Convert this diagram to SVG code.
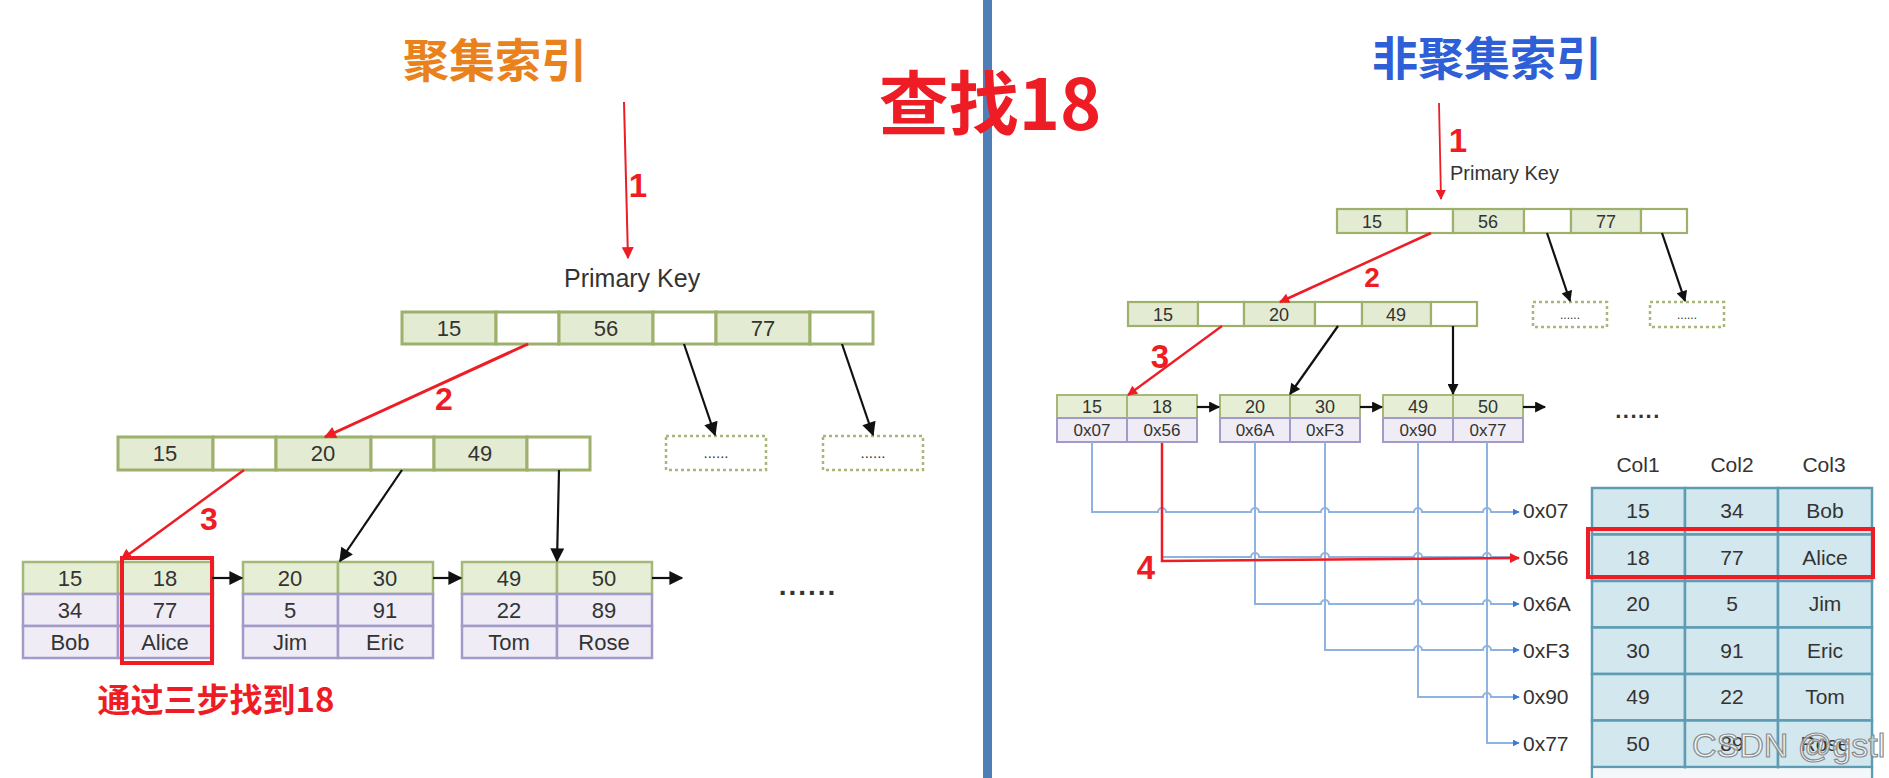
<svg xmlns="http://www.w3.org/2000/svg" width="1889" height="778" viewBox="0 0 1889 778">
<style>
.kg{fill:#E3EBD2;stroke:#9DB06C;stroke-width:3}
.kw{fill:#FFFFFF;stroke:#9DB06C;stroke-width:3}
.kg2{fill:#E3EBD2;stroke:#9DB06C;stroke-width:2.2}
.kw2{fill:#FFFFFF;stroke:#9DB06C;stroke-width:2.2}
.lg{fill:#E6EFD6;stroke:#A5B877;stroke-width:2.5}
.lp{fill:#EFECF5;stroke:#A29AC8;stroke-width:2.5}
.lg2{fill:#E6EFD6;stroke:#A5B877;stroke-width:2}
.lp2{fill:#EFECF5;stroke:#A29AC8;stroke-width:2}
.tb{fill:#D3E7EF;stroke:#5E9CB4;stroke-width:2.5}
.dash{fill:#FFFFFF;stroke:#A5B877;stroke-width:2.5;stroke-dasharray:3 3}
.t{font-family:"Liberation Sans",Arial,sans-serif;fill:#333;text-anchor:middle}
.tl{font-family:"Liberation Sans",Arial,sans-serif;fill:#333}
.red{font-family:"Liberation Sans",Arial,sans-serif;fill:#EE1C25;font-weight:bold;text-anchor:middle}
.cjk{font-family:"Noto Sans CJK SC","Noto Sans",sans-serif;font-weight:bold;text-anchor:middle}
.ak{stroke:#111;stroke-width:2.2;fill:none}
.ar{stroke:#EE1C25;fill:none}
.bl{stroke:#8FB3E0;stroke-width:2;fill:none}
.hl{fill:none;stroke:#EE1C25;stroke-width:4}
</style>
<defs>
<marker id="akL" viewBox="0 0 10 10" refX="9" refY="5" markerWidth="16" markerHeight="14" markerUnits="userSpaceOnUse" orient="auto"><path d="M0,0 L10,5 L0,10 z" fill="#111"/></marker>
<marker id="akS" viewBox="0 0 10 10" refX="9" refY="5" markerWidth="12" markerHeight="11" markerUnits="userSpaceOnUse" orient="auto"><path d="M0,0 L10,5 L0,10 z" fill="#111"/></marker>
<marker id="arL" viewBox="0 0 10 10" refX="9" refY="5" markerWidth="14" markerHeight="12" markerUnits="userSpaceOnUse" orient="auto"><path d="M0,0 L10,5 L0,10 z" fill="#EE1C25"/></marker>
<marker id="arS" viewBox="0 0 10 10" refX="9" refY="5" markerWidth="11" markerHeight="10" markerUnits="userSpaceOnUse" orient="auto"><path d="M0,0 L10,5 L0,10 z" fill="#EE1C25"/></marker>
<marker id="ab" viewBox="0 0 10 10" refX="9" refY="5" markerWidth="7" markerHeight="7" markerUnits="userSpaceOnUse" orient="auto"><path d="M0,0 L10,5 L0,10 z" fill="#3C78D8"/></marker>
</defs>
<rect width="1889" height="778" fill="#FFFFFF"/>

<!-- divider -->
<rect id="divider" x="983" y="0" width="9" height="778" fill="#4F7DB5"/>

<!-- titles -->
<text id="title-left" class="cjk" x="495" y="77" font-size="46" fill="#E9821C">聚集索引</text>
<text id="title-right" class="cjk" x="1487" y="75" font-size="46" fill="#2E5FD6">非聚集索引</text>
<text id="title-main" class="cjk" x="990" y="130" font-size="70" fill="#EE1C25">查找18</text>

<!-- LEFT: clustered index -->
<text id="pk-left" class="tl" x="564" y="287" font-size="25">Primary Key</text>

<g id="L-top" class="node">
<rect class="kg" x="402" y="312" width="94" height="32"/>
<rect class="kw" x="496" y="312" width="63" height="32"/>
<rect class="kg" x="559" y="312" width="94" height="32"/>
<rect class="kw" x="653" y="312" width="63" height="32"/>
<rect class="kg" x="716" y="312" width="94" height="32"/>
<rect class="kw" x="810" y="312" width="63" height="32"/>
<text class="t" font-size="22" x="449" y="336">15</text>
<text class="t" font-size="22" x="606" y="336">56</text>
<text class="t" font-size="22" x="763" y="336">77</text>
</g>

<g id="L-mid" class="node">
<rect class="kg" x="118" y="437" width="95" height="33"/>
<rect class="kw" x="213" y="437" width="63" height="33"/>
<rect class="kg" x="276" y="437" width="95" height="33"/>
<rect class="kw" x="371" y="437" width="63" height="33"/>
<rect class="kg" x="434" y="437" width="93" height="33"/>
<rect class="kw" x="527" y="437" width="63" height="33"/>
<text class="t" font-size="22" x="165" y="461">15</text>
<text class="t" font-size="22" x="323" y="461">20</text>
<text class="t" font-size="22" x="480" y="461">49</text>
</g>

<g id="L-dash1" class="node">
<rect class="dash" x="666" y="436" width="100" height="34"/>
<text class="t" font-size="15" x="716" y="458" fill="#555">......</text>
</g>
<g id="L-dash2" class="node">
<rect class="dash" x="823" y="436" width="100" height="34"/>
<text class="t" font-size="15" x="873" y="458" fill="#555">......</text>
</g>

<g id="L-leaf1" class="node">
<rect class="lg" x="23" y="562" width="95" height="32"/>
<rect class="lg" x="118" y="562" width="95" height="32"/>
<rect class="lp" x="23" y="594" width="95" height="32"/>
<rect class="lp" x="118" y="594" width="95" height="32"/>
<rect class="lp" x="23" y="626" width="95" height="32"/>
<rect class="lp" x="118" y="626" width="95" height="32"/>
<text class="t" font-size="22" x="70" y="586">15</text>
<text class="t" font-size="22" x="165" y="586">18</text>
<text class="t" font-size="22" x="70" y="618">34</text>
<text class="t" font-size="22" x="165" y="618">77</text>
<text class="t" font-size="22" x="70" y="650">Bob</text>
<text class="t" font-size="22" x="165" y="650">Alice</text>
</g>
<g id="L-leaf2" class="node">
<rect class="lg" x="243" y="562" width="95" height="32"/>
<rect class="lg" x="338" y="562" width="95" height="32"/>
<rect class="lp" x="243" y="594" width="95" height="32"/>
<rect class="lp" x="338" y="594" width="95" height="32"/>
<rect class="lp" x="243" y="626" width="95" height="32"/>
<rect class="lp" x="338" y="626" width="95" height="32"/>
<text class="t" font-size="22" x="290" y="586">20</text>
<text class="t" font-size="22" x="385" y="586">30</text>
<text class="t" font-size="22" x="290" y="618">5</text>
<text class="t" font-size="22" x="385" y="618">91</text>
<text class="t" font-size="22" x="290" y="650">Jim</text>
<text class="t" font-size="22" x="385" y="650">Eric</text>
</g>
<g id="L-leaf3" class="node">
<rect class="lg" x="462" y="562" width="95" height="32"/>
<rect class="lg" x="557" y="562" width="95" height="32"/>
<rect class="lp" x="462" y="594" width="95" height="32"/>
<rect class="lp" x="557" y="594" width="95" height="32"/>
<rect class="lp" x="462" y="626" width="95" height="32"/>
<rect class="lp" x="557" y="626" width="95" height="32"/>
<text class="t" font-size="22" x="509" y="586">49</text>
<text class="t" font-size="22" x="604" y="586">50</text>
<text class="t" font-size="22" x="509" y="618">22</text>
<text class="t" font-size="22" x="604" y="618">89</text>
<text class="t" font-size="22" x="509" y="650">Tom</text>
<text class="t" font-size="22" x="604" y="650">Rose</text>
</g>
<text id="L-more" class="t" font-size="28" font-weight="bold" fill="#111" x="808" y="595" letter-spacing="2">......</text>

<rect id="L-highlight" class="hl" x="122" y="558" width="90" height="105"/>
<text id="L-note" class="cjk" x="216" y="712" font-size="33" fill="#EE1C25">通过三步找到18</text>

<!-- RIGHT: non-clustered index -->
<text id="pk-right" class="tl" x="1450" y="180" font-size="20">Primary Key</text>

<g id="R-top" class="node">
<rect class="kg2" x="1337" y="209" width="70" height="24"/>
<rect class="kw2" x="1407" y="209" width="46" height="24"/>
<rect class="kg2" x="1453" y="209" width="71" height="24"/>
<rect class="kw2" x="1524" y="209" width="47" height="24"/>
<rect class="kg2" x="1571" y="209" width="70" height="24"/>
<rect class="kw2" x="1641" y="209" width="46" height="24"/>
<text class="t" font-size="18" x="1372" y="228">15</text>
<text class="t" font-size="18" x="1488" y="228">56</text>
<text class="t" font-size="18" x="1606" y="228">77</text>
</g>

<g id="R-mid" class="node">
<rect class="kg2" x="1128" y="302" width="70" height="24"/>
<rect class="kw2" x="1198" y="302" width="46" height="24"/>
<rect class="kg2" x="1244" y="302" width="71" height="24"/>
<rect class="kw2" x="1315" y="302" width="47" height="24"/>
<rect class="kg2" x="1362" y="302" width="69" height="24"/>
<rect class="kw2" x="1431" y="302" width="46" height="24"/>
<text class="t" font-size="18" x="1163" y="321">15</text>
<text class="t" font-size="18" x="1279" y="321">20</text>
<text class="t" font-size="18" x="1396" y="321">49</text>
</g>

<g id="R-dash1" class="node">
<rect class="dash" x="1533" y="302" width="74" height="25"/>
<text class="t" font-size="12" x="1570" y="319" fill="#666">......</text>
</g>
<g id="R-dash2" class="node">
<rect class="dash" x="1650" y="302" width="74" height="25"/>
<text class="t" font-size="12" x="1687" y="319" fill="#666">......</text>
</g>

<g id="R-leaf1" class="node">
<rect class="lg2" x="1057" y="395" width="70" height="23"/>
<rect class="lg2" x="1127" y="395" width="70" height="23"/>
<rect class="lp2" x="1057" y="418" width="70" height="24"/>
<rect class="lp2" x="1127" y="418" width="70" height="24"/>
<text class="t" font-size="18" x="1092" y="413">15</text>
<text class="t" font-size="18" x="1162" y="413">18</text>
<text class="t" font-size="17" x="1092" y="436">0x07</text>
<text class="t" font-size="17" x="1162" y="436">0x56</text>
</g>
<g id="R-leaf2" class="node">
<rect class="lg2" x="1220" y="395" width="70" height="23"/>
<rect class="lg2" x="1290" y="395" width="70" height="23"/>
<rect class="lp2" x="1220" y="418" width="70" height="24"/>
<rect class="lp2" x="1290" y="418" width="70" height="24"/>
<text class="t" font-size="18" x="1255" y="413">20</text>
<text class="t" font-size="18" x="1325" y="413">30</text>
<text class="t" font-size="17" x="1255" y="436">0x6A</text>
<text class="t" font-size="17" x="1325" y="436">0xF3</text>
</g>
<g id="R-leaf3" class="node">
<rect class="lg2" x="1383" y="395" width="70" height="23"/>
<rect class="lg2" x="1453" y="395" width="70" height="23"/>
<rect class="lp2" x="1383" y="418" width="70" height="24"/>
<rect class="lp2" x="1453" y="418" width="70" height="24"/>
<text class="t" font-size="18" x="1418" y="413">49</text>
<text class="t" font-size="18" x="1488" y="413">50</text>
<text class="t" font-size="17" x="1418" y="436">0x90</text>
<text class="t" font-size="17" x="1488" y="436">0x77</text>
</g>
<text id="R-more" class="t" font-size="22" font-weight="bold" fill="#111" x="1638" y="418" letter-spacing="1.5">......</text>

<g id="R-table" class="node">
<text class="t" font-size="21" x="1638" y="472">Col1</text>
<text class="t" font-size="21" x="1732" y="472">Col2</text>
<text class="t" font-size="21" x="1824" y="472">Col3</text>
<rect class="tb" x="1592" y="488" width="93" height="46.5"/>
<rect class="tb" x="1685" y="488" width="93" height="46.5"/>
<rect class="tb" x="1778" y="488" width="94" height="46.5"/>
<rect class="tb" x="1592" y="534.5" width="93" height="46.5"/>
<rect class="tb" x="1685" y="534.5" width="93" height="46.5"/>
<rect class="tb" x="1778" y="534.5" width="94" height="46.5"/>
<rect class="tb" x="1592" y="581" width="93" height="46.5"/>
<rect class="tb" x="1685" y="581" width="93" height="46.5"/>
<rect class="tb" x="1778" y="581" width="94" height="46.5"/>
<rect class="tb" x="1592" y="627.5" width="93" height="46.5"/>
<rect class="tb" x="1685" y="627.5" width="93" height="46.5"/>
<rect class="tb" x="1778" y="627.5" width="94" height="46.5"/>
<rect class="tb" x="1592" y="674" width="93" height="46.5"/>
<rect class="tb" x="1685" y="674" width="93" height="46.5"/>
<rect class="tb" x="1778" y="674" width="94" height="46.5"/>
<rect class="tb" x="1592" y="720.5" width="93" height="46.5"/>
<rect class="tb" x="1685" y="720.5" width="93" height="46.5"/>
<rect class="tb" x="1778" y="720.5" width="94" height="46.5"/>
<path d="M1592,767 V780 M1685,767 V780 M1778,767 V780 M1872,767 V780" stroke="#5E9CB4" stroke-width="2.5"/>
<rect x="1593.5" y="768.5" width="277" height="12" fill="#F4F8FA"/>
<text class="t" font-size="21" x="1638" y="518">15</text>
<text class="t" font-size="21" x="1732" y="518">34</text>
<text class="t" font-size="21" x="1825" y="518">Bob</text>
<text class="t" font-size="21" x="1638" y="565">18</text>
<text class="t" font-size="21" x="1732" y="565">77</text>
<text class="t" font-size="21" x="1825" y="565">Alice</text>
<text class="t" font-size="21" x="1638" y="611">20</text>
<text class="t" font-size="21" x="1732" y="611">5</text>
<text class="t" font-size="21" x="1825" y="611">Jim</text>
<text class="t" font-size="21" x="1638" y="658">30</text>
<text class="t" font-size="21" x="1732" y="658">91</text>
<text class="t" font-size="21" x="1825" y="658">Eric</text>
<text class="t" font-size="21" x="1638" y="704">49</text>
<text class="t" font-size="21" x="1732" y="704">22</text>
<text class="t" font-size="21" x="1825" y="704">Tom</text>
<text class="t" font-size="21" x="1638" y="751">50</text>
<text class="t" font-size="21" x="1732" y="751">89</text>
<text class="t" font-size="21" x="1825" y="751">Rose</text>
</g>

<g id="R-addr">
<text class="tl" font-size="21" x="1523" y="518">0x07</text>
<text class="tl" font-size="21" x="1523" y="565">0x56</text>
<text class="tl" font-size="21" x="1523" y="611">0x6A</text>
<text class="tl" font-size="21" x="1523" y="658">0xF3</text>
<text class="tl" font-size="21" x="1523" y="704">0x90</text>
<text class="tl" font-size="21" x="1523" y="751">0x77</text>
</g>

<rect id="R-highlight" class="hl" x="1588" y="529" width="285" height="48" stroke-width="4.5"/>

<!-- connectors -->
<g id="connectors">
<!-- left -->
<line class="ar" stroke-width="2" x1="624" y1="102" x2="628" y2="258" marker-end="url(#arL)"/>
<line class="ar" stroke-width="3" x1="528" y1="344" x2="325" y2="437" marker-end="url(#arL)"/>
<line class="ar" stroke-width="2.5" x1="244" y1="470" x2="121" y2="560" marker-end="url(#arL)"/>
<line class="ak" x1="684" y1="344" x2="715" y2="435" marker-end="url(#akL)"/>
<line class="ak" x1="842" y1="344" x2="873" y2="435" marker-end="url(#akL)"/>
<line class="ak" x1="402" y1="470" x2="340" y2="561" marker-end="url(#akL)"/>
<line class="ak" x1="559" y1="470" x2="557" y2="561" marker-end="url(#akL)"/>
<line class="ak" stroke-width="3" x1="212" y1="578" x2="242" y2="578" marker-end="url(#akL)"/>
<line class="ak" stroke-width="3" x1="433" y1="578" x2="461" y2="578" marker-end="url(#akL)"/>
<line class="ak" stroke-width="3" x1="652" y1="578" x2="682" y2="578" marker-end="url(#akL)"/>
<!-- right tree -->
<line class="ar" stroke-width="1.8" x1="1439" y1="103" x2="1441" y2="199" marker-end="url(#arS)"/>
<line class="ar" stroke-width="2.5" x1="1431" y1="233" x2="1280" y2="302" marker-end="url(#arS)"/>
<line class="ar" stroke-width="2.2" x1="1222" y1="326" x2="1128" y2="395" marker-end="url(#arS)"/>
<line class="ak" stroke-width="1.8" x1="1547" y1="233" x2="1570" y2="301" marker-end="url(#akS)"/>
<line class="ak" stroke-width="1.8" x1="1662" y1="233" x2="1685" y2="301" marker-end="url(#akS)"/>
<line class="ak" stroke-width="1.8" x1="1338" y1="326" x2="1290" y2="394" marker-end="url(#akS)"/>
<line class="ak" stroke-width="1.8" x1="1453" y1="326" x2="1453" y2="394" marker-end="url(#akS)"/>
<line class="ak" stroke-width="2.2" x1="1197" y1="407" x2="1219" y2="407" marker-end="url(#akS)"/>
<line class="ak" stroke-width="2.2" x1="1360" y1="407" x2="1382" y2="407" marker-end="url(#akS)"/>
<line class="ak" stroke-width="2.2" x1="1523" y1="407" x2="1545" y2="407" marker-end="url(#akS)"/>
<!-- pointer lines to rows -->
<path class="bl" d="M1092,442 V512 H1158 A4,4 0 0 1 1166,512 H1251 A4,4 0 0 1 1259,512 H1321 A4,4 0 0 1 1329,512 H1414 A4,4 0 0 1 1422,512 H1483 A4,4 0 0 1 1491,512 H1519" marker-end="url(#ab)"/>
<path class="bl" d="M1162,557 H1251 A4,4 0 0 1 1259,557 H1321 A4,4 0 0 1 1329,557 H1414 A4,4 0 0 1 1422,557 H1483 A4,4 0 0 1 1491,557 H1510"/>
<path class="bl" d="M1255,442 V604 H1321 A4,4 0 0 1 1329,604 H1414 A4,4 0 0 1 1422,604 H1483 A4,4 0 0 1 1491,604 H1519" marker-end="url(#ab)"/>
<path class="bl" d="M1325,442 V650 H1414 A4,4 0 0 1 1422,650 H1483 A4,4 0 0 1 1491,650 H1519" marker-end="url(#ab)"/>
<path class="bl" d="M1418,442 V697 H1483 A4,4 0 0 1 1491,697 H1519" marker-end="url(#ab)"/>
<path class="bl" d="M1487,442 V743 H1519" marker-end="url(#ab)"/>
<path class="ar" stroke-width="2.5" d="M1162,443 V561 L1519,558" marker-end="url(#arS)"/>
</g>

<!-- step labels -->
<text class="red" font-size="33" x="638" y="197">1</text>
<text class="red" font-size="32" x="444" y="410">2</text>
<text class="red" font-size="32" x="209" y="530">3</text>
<text class="red" font-size="33" x="1458" y="152">1</text>
<text class="red" font-size="28" x="1372" y="287">2</text>
<text class="red" font-size="33" x="1160" y="368">3</text>
<text class="red" font-size="33" x="1146" y="579">4</text>

<text id="watermark" x="1692" y="757" font-family="Liberation Sans, Arial, sans-serif" font-size="34" fill="#FFFFFF" fill-opacity="0.6" stroke="#8A8A8A" stroke-width="1.2">CSDN @gstl</text>
</svg>
